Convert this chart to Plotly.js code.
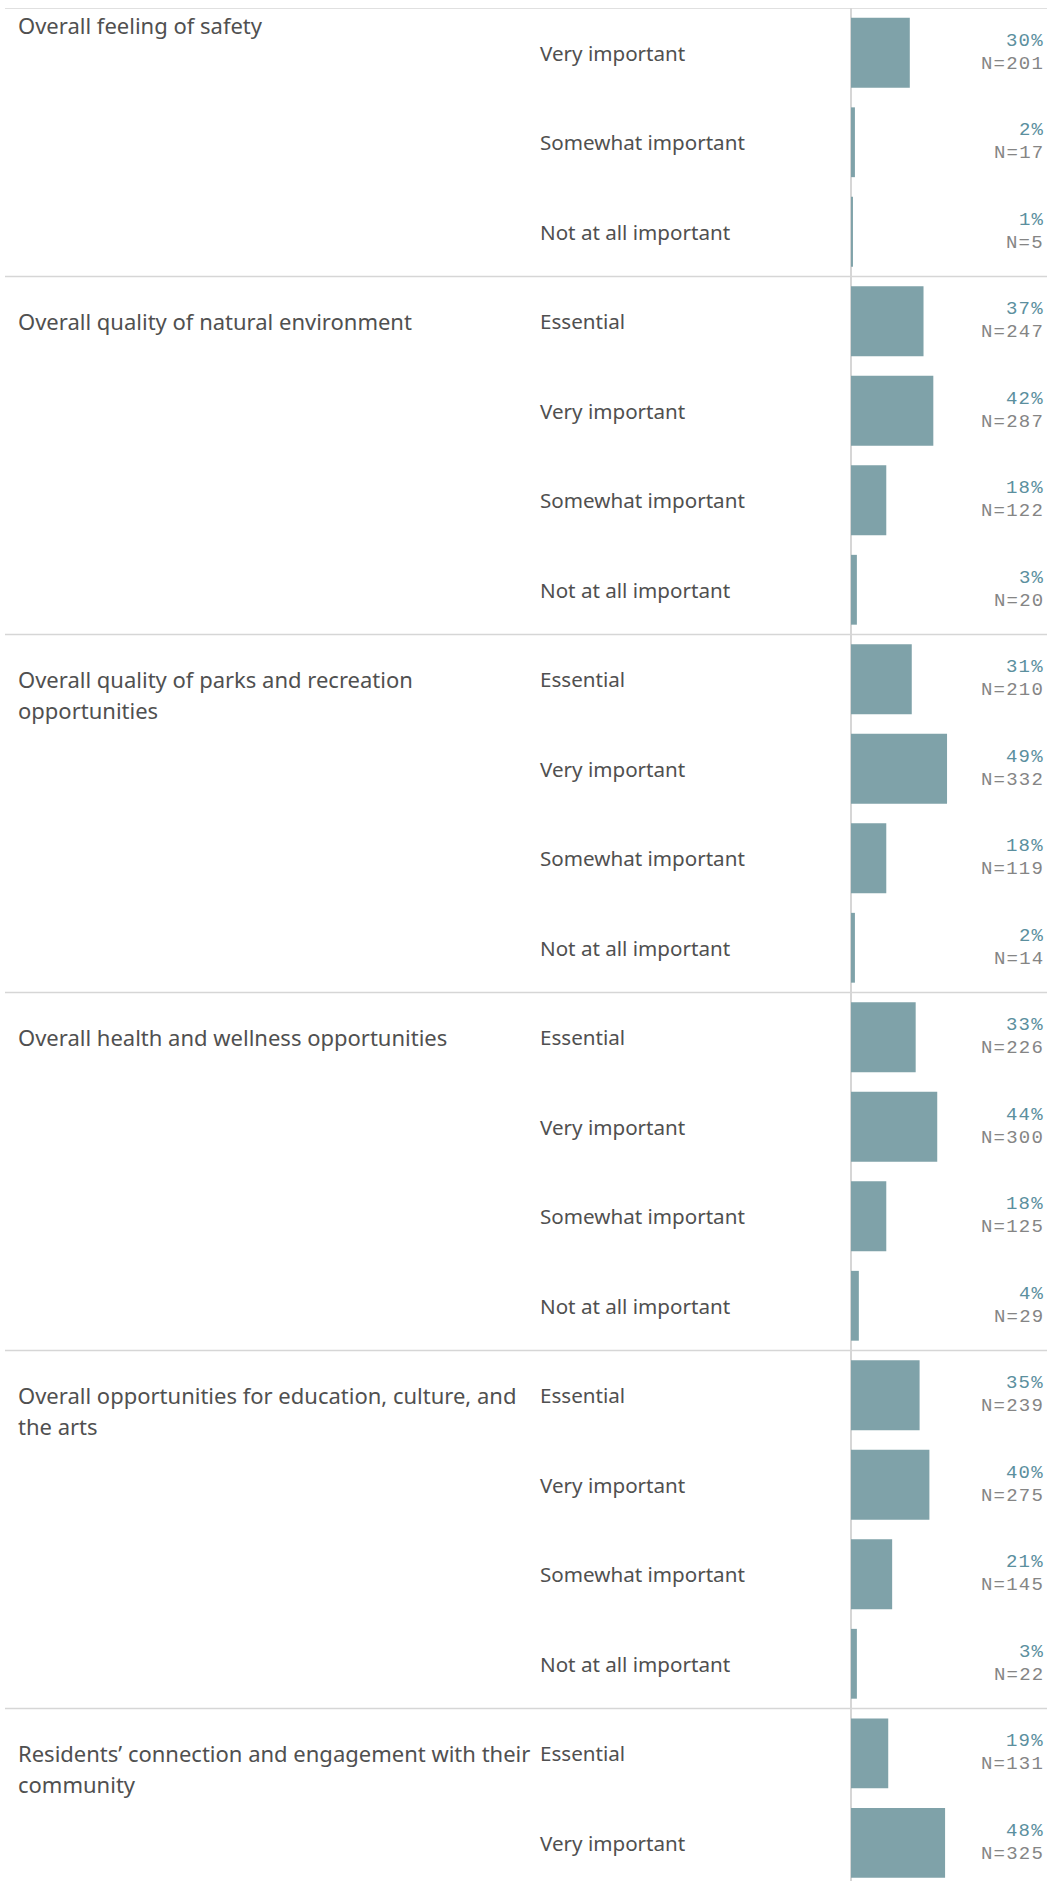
<!DOCTYPE html>
<html>
<head>
<meta charset="utf-8">
<script src="https://cdn.plot.ly/plotly-3.0.1.min.js"></script>
<style>
  html, body { margin: 0; padding: 0; background: #ffffff; overflow: hidden; }
  #chart { width: 1047px; height: 1881px; }
  text.annotation-text[style*="Courier"] { letter-spacing: 1.2px; }
</style>
</head>
<body>
<div id="chart"></div>
<script>
// ---- Data ----
const groupNames = [
  "Overall feeling of safety",
  "Overall quality of natural environment",
  "Overall quality of parks and recreation<br>opportunities",
  "Overall health and wellness opportunities",
  "Overall opportunities for education, culture, and<br>the arts",
  "Residents’ connection and engagement with their<br>community"
];
const rowGroup = [0,0,0, 1,1,1,1, 2,2,2,2, 3,3,3,3, 4,4,4,4, 5,5];
const responses = [
  "Very important","Somewhat important","Not at all important",
  "Essential","Very important","Somewhat important","Not at all important",
  "Essential","Very important","Somewhat important","Not at all important",
  "Essential","Very important","Somewhat important","Not at all important",
  "Essential","Very important","Somewhat important","Not at all important",
  "Essential","Very important"
];
const pct = [30,2,1, 37,42,18,3, 31,49,18,2, 33,44,18,4, 35,40,21,3, 19,48];
const counts = [201,17,5, 247,287,122,20, 210,332,119,14, 226,300,125,29, 239,275,145,22, 131,325];

// ---- Styles ----
const barColor = "#7fa2a9";
const labelColor = "#505050";
const pctColor = "#5b8f9e";
const nColor = "#858585";
const lineColor = "#d6d6d6";
const sansFont = "'Noto Sans', 'Open Sans', sans-serif";
const monoFont = "'Courier New', Courier, 'Nimbus Mono PS', FreeMono, 'Liberation Mono', monospace";

const rowIdx = pct.map((_, i) => i);

const trace = {
  type: "bar",
  orientation: "h",
  x: pct,
  y: rowIdx,
  marker: { color: barColor, line: { width: 0 } },
  hoverinfo: "skip",
  showlegend: false
};

const annotations = [];
const shapes = [];

// Group boundaries and group labels
rowGroup.forEach((g, i) => {
  if (i === 0 || rowGroup[i - 1] !== g) {
    shapes.push({
      type: "line", xref: "paper", yref: "y",
      x0: 0.0048, x1: 1, y0: i - 0.5, y1: i - 0.5,
      line: { color: lineColor, width: 1.5 }
    });
    const lines = groupNames[g].split("<br>");
    lines.forEach((ln, k) => {
      annotations.push({
        xref: "paper", yref: "y", x: 0.0149, y: i,
        xanchor: "left", yanchor: "middle",
        yshift: (i === 0 ? 28 : 0) - 31 * k,
        text: ln, showarrow: false,
        font: { family: sansFont, size: 22, color: labelColor }
      });
    });
  }
});

// Row labels and value labels
rowIdx.forEach(i => {
  annotations.push({
    xref: "paper", yref: "y", x: 0.5135, y: i,
    xanchor: "left", yanchor: "middle",
    text: responses[i], showarrow: false,
    font: { family: sansFont, size: 20.6, color: labelColor }
  });
  annotations.push({
    xref: "paper", yref: "y", x: 0.999, y: i,
    xanchor: "right", yanchor: "middle", yshift: 12,
    text: pct[i] + "%", showarrow: false,
    font: { family: monoFont, size: 19, color: pctColor }
  });
  annotations.push({
    xref: "paper", yref: "y", x: 0.999, y: i,
    xanchor: "right", yanchor: "middle", yshift: -11,
    text: "N=" + counts[i], showarrow: false,
    font: { family: monoFont, size: 19, color: nColor }
  });
});

const layout = {
  width: 1047,
  height: 1881,
  margin: { l: 0, r: 0, t: 8, b: 0, pad: 0 },
  paper_bgcolor: "#ffffff",
  plot_bgcolor: "#ffffff",
  bargap: 0.22,
  xaxis: {
    range: [-434.18, 100],
    showgrid: false, showticklabels: false, ticks: "",
    zeroline: true, zerolinecolor: lineColor, zerolinewidth: 1.5,
    fixedrange: true
  },
  yaxis: {
    range: [20.427, -0.5],
    showgrid: false, showticklabels: false, ticks: "",
    zeroline: false, fixedrange: true
  },
  shapes: shapes,
  annotations: annotations,
  showlegend: false
};

Plotly.newPlot("chart", [trace], layout, { displayModeBar: false, staticPlot: true });
</script>
</body>
</html>
